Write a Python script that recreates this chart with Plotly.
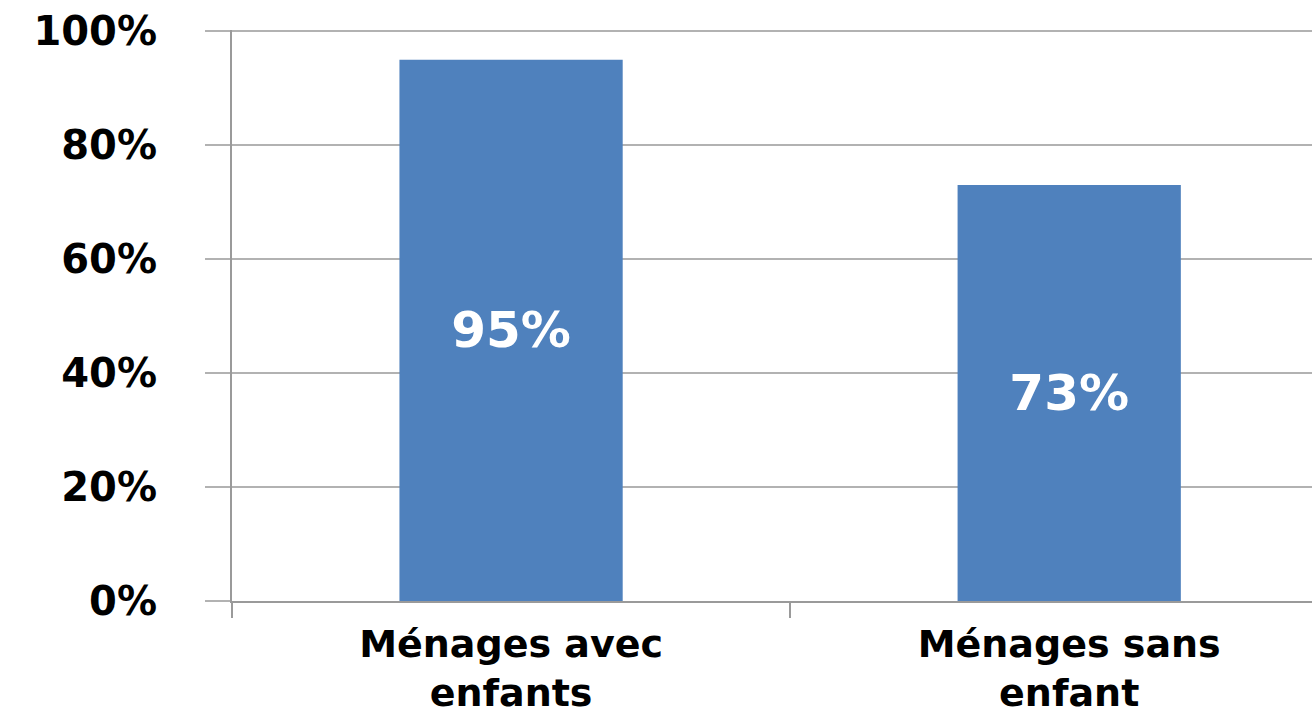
import plotly.graph_objects as go

categories = ["Ménages avec<br>enfants", "Ménages sans<br>enfant"]
values = [0.95, 0.73]
labels = ["95%", "73%"]
y_ticks = [0, 0.2, 0.4, 0.6, 0.8, 1.0]
y_tick_text = ["0%", "20%", "40%", "60%", "80%", "100%"]

FONT = "DejaVu Sans, Verdana, sans-serif"
GRID = "#b2b2b2"
AXIS = "#9a9a9a"

fig = go.Figure(go.Bar(
    x=categories, y=values,
    marker_color="#4f81bd",
    marker_line_width=0,
    width=0.4,
    text=labels,
    textposition="inside",
    insidetextanchor="middle",
    textfont=dict(family=FONT, size=50, color="white", weight="bold"),
    textangle=0,
))

fig.update_layout(
    width=1312, height=717,
    paper_bgcolor="white", plot_bgcolor="white",
    margin=dict(t=30, b=116, l=232, r=0),
    showlegend=False,
    font=dict(family=FONT, color="black", weight="bold"),
)
fig.update_xaxes(
    type="category",
    range=[-0.5, 1.435],
    tickson="boundaries",
    ticks="outside", ticklen=15, tickcolor=AXIS, tickwidth=2,
    showline=True, linecolor=AXIS, linewidth=2,
    showgrid=False,
    tickfont=dict(family=FONT, size=38, color="black", weight="bold"),
    ticklabelstandoff=8,
)
fig.update_yaxes(
    range=[0, 1.002],
    tickvals=y_ticks, ticktext=y_tick_text,
    ticks="outside", ticklen=25, tickcolor=GRID, tickwidth=2,
    showline=True, linecolor=AXIS, linewidth=2,
    showgrid=True, gridcolor=GRID, gridwidth=2,
    zeroline=False,
    tickfont=dict(family=FONT, size=40, color="black", weight="bold"),
    ticklabelstandoff=40,
    ticklabeloverflow="allow",
)

# drop the default body margin so the figure fills the window
fig.write_html(
    "out.html",
    config={"displayModeBar": False},
    post_script="document.body.style.margin='0px';",
)
